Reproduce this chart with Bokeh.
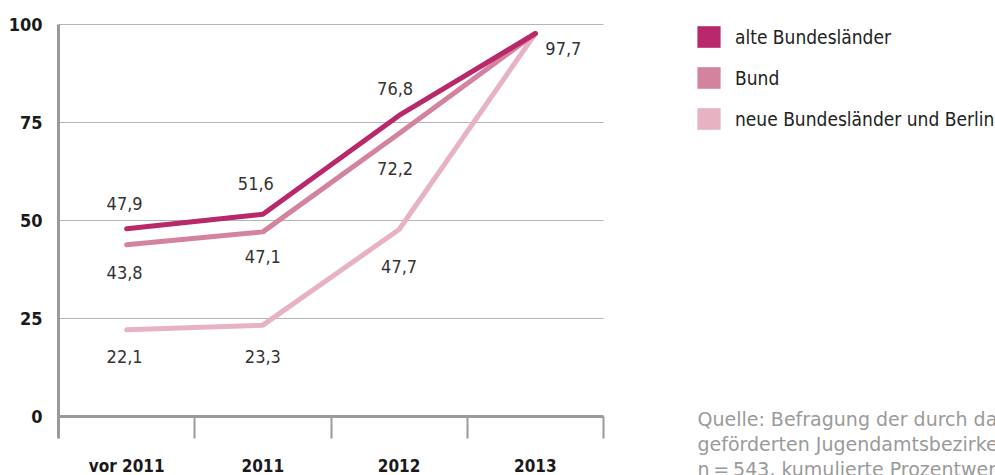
import math
from bokeh.plotting import figure
from bokeh.models import (FixedTicker, ColumnDataSource, LabelSet, Label,
                          Legend, LegendItem, Grid)
from bokeh.core.properties import value
from bokeh.embed import file_html
from bokeh.resources import INLINE

# ---------------- data ----------------
categories = ["vor 2011", "2011", "2012", "2013"]
alte = [47.9, 51.6, 76.8, 97.7]
bund = [43.8, 47.1, 72.2, 97.7]
neue = [22.1, 23.3, 47.7, 97.7]
y_ticks = [0, 25, 50, 75, 100]
series_names = ["alte Bundesländer", "Bund", "neue Bundesländer und Berlin"]
source_lines = [
    "Quelle: Befragung der durch das Bundesprogramm",
    "geförderten Jugendamtsbezirke, 2013;",
    "n\u2009=\u2009543, kumulierte Prozentwerte",
]

# ---------------- style ----------------
COLORS = ["#b8286a", "#d4839e", "#e7b3c3"]
NARROW = "DejaVu Sans Condensed"
GRID = "#b4b4b4"
AXIS = "#9a9a9a"

n = len(categories)
xs = list(range(n))
PX_X = 136.25          # pixels per category
PX_Y = 3.92            # pixels per percent
W, H = 995, 475
LEFT, TOP, ZERO_Y = 58, 22, 416

x_end = -0.5 + (W - LEFT) / PX_X
y_end = 100 + (ZERO_Y - TOP - 100 * PX_Y) / PX_Y
y_start = -(H - ZERO_Y) / PX_Y
axis_low = -22 / PX_Y

p = figure(width=W, height=H, output_backend="svg", toolbar_location=None,
           x_range=(-0.5, x_end), y_range=(y_start, y_end),
           x_axis_location="above",
           min_border_left=LEFT, min_border_right=0, min_border_top=TOP,
           min_border_bottom=0, outline_line_color=None)
p.title.visible = False

# y axis
p.yaxis.ticker = FixedTicker(ticks=y_ticks)
p.yaxis.bounds = (axis_low, 100)
p.yaxis.major_tick_line_color = None
p.yaxis.minor_tick_line_color = None
p.yaxis.axis_line_color = AXIS
p.yaxis.axis_line_width = 3
p.yaxis.major_label_standoff = 10
p.yaxis.major_label_text_font = NARROW
p.yaxis.major_label_text_font_style = "bold"
p.yaxis.major_label_text_font_size = "18px"
p.yaxis.major_label_text_color = "#1a1a1a"

# x axis drawn at y = 0
bounds = [i - 0.5 for i in range(n + 1)]
xa = p.xaxis[0]
xa.fixed_location = 0
xa.bounds = (-0.5, n - 0.5)
xa.ticker = FixedTicker(ticks=xs, minor_ticks=bounds)
xa.major_label_overrides = {i: c for i, c in zip(xs, categories)}
xa.major_tick_line_color = None
xa.major_tick_out = 0
xa.major_tick_in = 0
xa.minor_tick_out = 0
xa.minor_tick_in = 22
xa.minor_tick_line_color = AXIS
xa.minor_tick_line_width = 2
xa.axis_line_color = AXIS
xa.axis_line_width = 3
xa.major_label_standoff = -59
xa.major_label_text_font = NARROW
xa.major_label_text_font_style = "bold"
xa.major_label_text_font_size = "17px"
xa.major_label_text_color = "#1a1a1a"

p.xgrid.grid_line_color = None
yg = p.ygrid[0]
yg.grid_line_color = GRID
yg.grid_line_width = 1
if "cross_bounds" in Grid.properties():
    yg.cross_bounds = (-0.5, n - 0.5)
else:
    yg.grid_line_color = None
    p.segment(x0=[-0.5] * len(y_ticks), x1=[n - 0.5] * len(y_ticks),
              y0=y_ticks, y1=y_ticks, line_color=GRID, line_width=1)

# lines (bottom to top)
for name, vals, col in reversed(list(zip(series_names, [alte, bund, neue], COLORS))):
    p.line(xs, vals, line_color=col, line_width=5, line_cap="round")

# data labels
lx, ly, lt, lxo, lyo = [], [], [], [], []
offsets = {
    0: [(-2, 25), (-7, 31), (-4, 27), (28, -15)],
    1: [(-2, -28), (0, -25), (-4, -35), None],
    2: [(-2, -27), (0, -31), (0, -37), None],
}
for si, vals in enumerate([alte, bund, neue]):
    for i, v in enumerate(vals):
        off = offsets[si][i]
        if off is None:
            continue
        lx.append(xs[i]); ly.append(v)
        lt.append(f"{v:.1f}".replace(".", ","))
        lxo.append(off[0]); lyo.append(off[1])
src = ColumnDataSource(dict(x=lx, y=ly, t=lt, xo=lxo, yo=lyo))
p.add_layout(LabelSet(x="x", y="y", text="t", x_offset="xo", y_offset="yo",
                      source=src, text_align="center", text_baseline="middle",
                      text_font=value(NARROW), text_font_size=value("18px"),
                      text_color="#333333"))

# legend (square swatches)
items = []
nan = [math.nan]
for name, col in zip(series_names, COLORS):
    r = p.quad(left=nan, right=nan, top=nan, bottom=nan, fill_color=col,
               line_color=None)
    items.append(LegendItem(label=name, renderers=[r]))
legend = Legend(items=items, location=(636, 343), orientation="vertical",
                glyph_width=29, glyph_height=27, spacing=14, label_standoff=12,
                padding=0, margin=0, border_line_color=None,
                background_fill_alpha=0, label_height=27,
                label_text_font=NARROW, label_text_font_size="19px",
                label_text_color="#222222")
p.add_layout(legend, "center")

# source note
for k, line in enumerate(source_lines):
    p.add_layout(Label(x=639, y=57 - 25 * k, x_units="screen", y_units="screen",
                       text=line, text_baseline="alphabetic", text_align="left",
                       text_font="DejaVu Sans", text_font_size="19px",
                       text_color="#9a9a9a"))

open("out.html", "w").write(file_html(p, INLINE))
